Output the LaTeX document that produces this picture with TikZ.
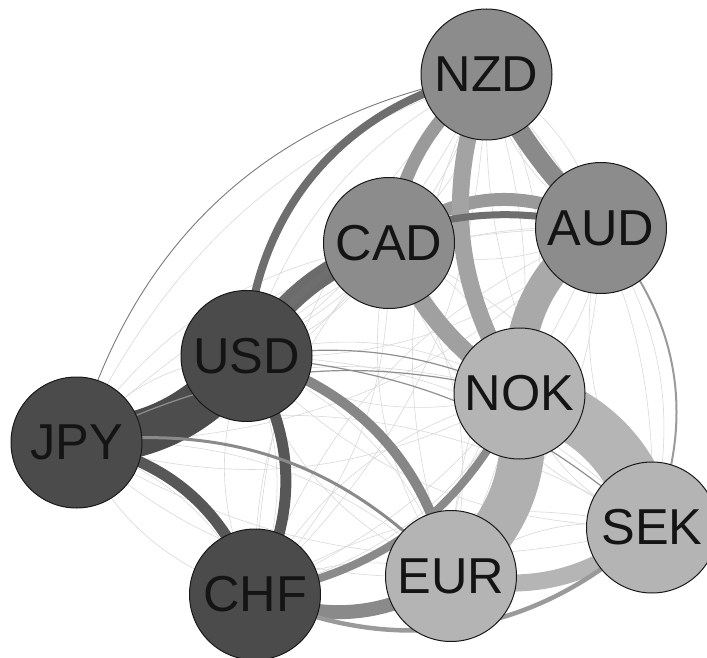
\documentclass[tikz,border=0pt]{standalone}
\usepackage{fontspec}
\setsansfont{Liberation Sans}
\usetikzlibrary{%
	backgrounds
}
\definecolor{nDark}{HTML}{4B4B4B}
\definecolor{nMid}{HTML}{8C8C8C}
\definecolor{nLight}{HTML}{B4B4B4}
\definecolor{g4D}{HTML}{4D4D4D}
\definecolor{g57}{HTML}{575757}
\definecolor{g6B}{HTML}{6B6B6B}
\definecolor{g6E}{HTML}{6E6E6E}
\definecolor{g7A}{HTML}{7A7A7A}
\definecolor{g86}{HTML}{868686}
\definecolor{g8A}{HTML}{8A8A8A}
\definecolor{g8F}{HTML}{8F8F8F}
\definecolor{g9A}{HTML}{9A9A9A}
\definecolor{gA0}{HTML}{A0A0A0}
\definecolor{gA3}{HTML}{A3A3A3}
\definecolor{gA9}{HTML}{A9A9A9}
\definecolor{gB0}{HTML}{B0B0B0}
\definecolor{gB5}{HTML}{B5B5B5}
\definecolor{gFaint}{HTML}{D8D8D8}

\begin{document}
\begin{tikzpicture}[x=1pt,y=-1pt,
		CNode/.style={draw=black!90,line width=1pt,shape=circle,minimum size=131pt,inner sep=0pt,font=\sffamily\fontsize{50.5}{60}\selectfont,text=black!92},
		CDark/.style={CNode,fill=nDark},
		CMid/.style={CNode,fill=nMid},
		CLight/.style={CNode,fill=nLight},
		faint/.style={draw=gFaint,line width=0.6pt}
	]
	\useasboundingbox (0,0) rectangle (707,658);
	
	\node (NZD) [CMid] at (486.5,74.5) {NZD};
	\node (AUD) [CMid] at (601,228) {AUD};
	\node (CAD) [CMid] at (389,243) {CAD};
	\node (USD) [CDark] at (246.5,356) {USD};
	\node (NOK) [CLight] at (519.5,393.5) {NOK};
	\node (JPY) [CDark] at (76.5,442.5) {JPY};
	\node (SEK) [CLight] at (652,527.5) {SEK};
	\node (EUR) [CLight] at (451,576) {EUR};
	\node (CHF) [CDark] at (255,594.5) {CHF};
	
	\begin{scope}[on background layer]
		%weak links
		\foreach \a/\b in {NZD/AUD,NZD/CAD,NZD/USD,NZD/NOK,NZD/JPY,NZD/SEK,NZD/EUR,NZD/CHF,
			AUD/CAD,AUD/USD,AUD/NOK,AUD/JPY,AUD/SEK,AUD/EUR,AUD/CHF,
			CAD/USD,CAD/NOK,CAD/JPY,CAD/SEK,CAD/EUR,CAD/CHF,
			USD/NOK,USD/JPY,USD/SEK,USD/EUR,USD/CHF,
			NOK/JPY,NOK/SEK,NOK/EUR,NOK/CHF,
			JPY/SEK,JPY/EUR,JPY/CHF,SEK/EUR,SEK/CHF,EUR/CHF}{
			\draw[faint] (\a.center) to[bend left=22] (\b.center);
			\draw[faint] (\a.center) to[bend right=22] (\b.center);
		}
		
		%strong links
		\draw[line width=54pt,gB5] (NOK.center) to[bend left=30] (SEK.center);
		\draw[line width=45pt,gB0] (NOK.center) to[bend left=30] (EUR.center);
		\draw[line width=46pt,g4D] (JPY.center) to[bend right=25] (USD.center);
		\draw[line width=30pt,gA9] (AUD.center) to[bend right=30] (NOK.center);
		\draw[line width=21pt,g6B] (USD.center) to[bend left=18] (CAD.center);
		\draw[line width=19pt,g8A] (NZD.center) to[bend right=8] (AUD.center);
		\draw[line width=13pt,g9A] (CAD.center) to[bend left=35] (AUD.center);
		\draw[line width=17pt,gA3] (NZD.center) to[bend right=26] (NOK.center);
		\draw[line width=18pt,gA0] (CAD.center) to[bend right=15] (NOK.center);
		\draw[line width=17pt,gB5] (EUR.center) to[bend right=26] (SEK.center);
		\draw[line width=14pt,g8A] (CHF.center) to[bend right=27] (EUR.center);
		\draw[line width=13pt,g9A] (NZD.center) to[bend right=20] (CAD.center);
		\draw[line width=11pt,g57] (JPY.center) to[bend left=30] (CHF.center);
		\draw[line width=11pt,g57] (USD.center) to[bend left=30] (CHF.center);
		\draw[line width=10pt,g86] (USD.center) to[bend left=30] (EUR.center);
		\draw[line width=8pt,g6E] (NZD.center) to[bend right=38] (USD.center);
		\draw[line width=8pt,g8A] (CHF.center) to[bend right=27] (NOK.center);
		\draw[line width=7pt,g6E] (USD.center) to[bend left=35] (AUD.center);
		\draw[line width=4.5pt,g9A] (CHF.center) to[bend right=34] (SEK.center);
		\draw[line width=3pt,g8A] (JPY.center) to[bend left=27] (EUR.center);
		\draw[line width=2pt,g9A] (AUD.center) to[bend left=32] (SEK.center);
		
		%thin links
		\draw[line width=1.2pt,g8F] (USD.center) to[bend left=15] (NOK.center);
		\draw[line width=1.2pt,g8F] (USD.center) to[bend left=18] (SEK.center);
		\draw[line width=1.2pt,g8F] (JPY.center) to[bend left=20] (NOK.center);
		\draw[line width=0.9pt,g7A] (NZD.center) to[bend right=32] (JPY.center);
	\end{scope}
	
\end{tikzpicture}
\end{document}
